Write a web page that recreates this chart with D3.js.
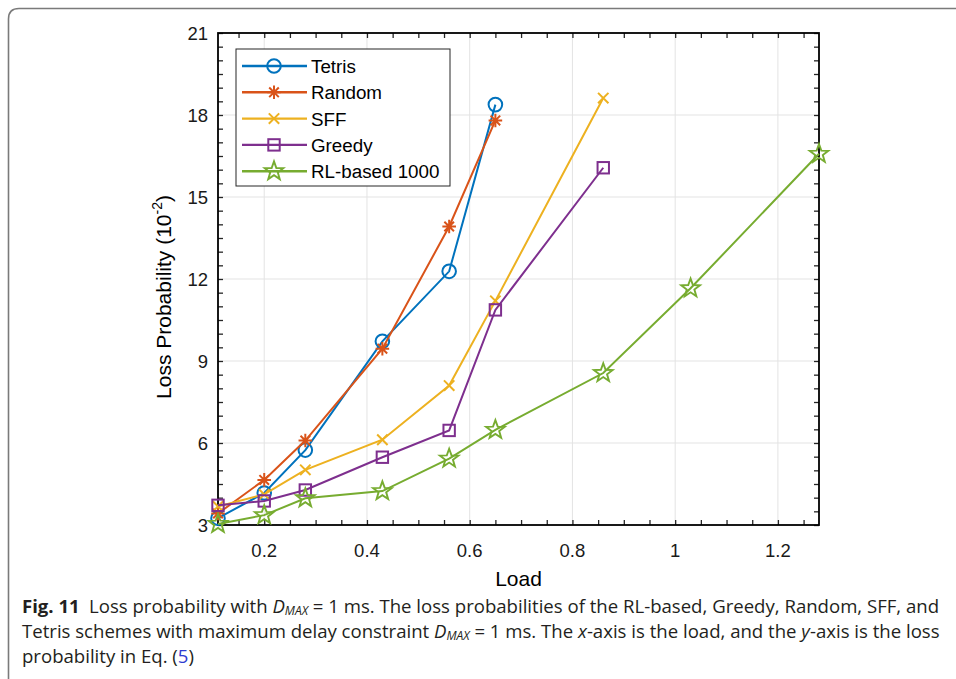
<!DOCTYPE html>
<html>
<head>
<meta charset="utf-8">
<script src="https://cdn.jsdelivr.net/npm/d3@7"></script>
<style>
	body { margin: 0; background: #fff; }
	svg { display: block; }
	.tick-label { font-family: "Liberation Sans", Arial, sans-serif; font-size: 18.5px; fill: #1a1a1a; }
	.axis-title { font-family: "Liberation Sans", Arial, sans-serif; font-size: 21px; fill: #000; }
	.legend-label { font-family: "Liberation Sans", Arial, sans-serif; font-size: 18.8px; fill: #000; }
	.caption { font-family: "Open Sans", "Noto Sans", sans-serif; font-size: 18.5px; fill: #231f20; }
</style>
</head>
<body>
<script>
// values
var load = [0.11, 0.2, 0.28, 0.43, 0.56, 0.65, 0.86, 1.03, 1.28];
var tetris = [3.25, 4.17, 5.74, 9.72, 12.28, 18.38];
var random = [3.42, 4.65, 6.09, 9.45, 13.92, 17.8];
var sff = [3.68, 4.12, 5.02, 6.12, 8.1, 11.2, 18.62];
var greedy = [3.72, 3.88, 4.28, 5.48, 6.46, 10.87, 16.07];
var rlBased = [3.04, 3.36, 3.98, 4.24, 5.43, 6.48, 8.56, 11.66, 16.58];
var seriesNames = ['Tetris', 'Random', 'SFF', 'Greedy', 'RL-based 1000'];
var xTicks = [0.2, 0.4, 0.6, 0.8, 1, 1.2];
var yTicks = [3, 6, 9, 12, 15, 18, 21];

var width = 956, height = 679;
var pLeft = 218, pRight = 819, pTop = 33, pBottom = 525;

var series = [
	{ name: seriesNames[0], values: tetris, color: '#0072BD', marker: 'circle' },
	{ name: seriesNames[1], values: random, color: '#D95319', marker: 'asterisk' },
	{ name: seriesNames[2], values: sff, color: '#EDB120', marker: 'cross' },
	{ name: seriesNames[3], values: greedy, color: '#7E2F8E', marker: 'square' },
	{ name: seriesNames[4], values: rlBased, color: '#77AC30', marker: 'star' }
];

var x = d3.scaleLinear().domain([0.11, 1.28]).range([pLeft, pRight]);
var y = d3.scaleLinear().domain([3, 21]).range([pBottom, pTop]);

var svg = d3.select('body')
	.append('svg')
	.attr('width', width)
	.attr('height', height);

// figure frame (rounded top-left / bottom-left)
svg.append('path')
	.attr('d', 'M956,8.5 L19,8.5 Q8.5,8.5 8.5,19 L8.5,679')
	.attr('fill', 'none')
	.attr('stroke', '#7a7a7a')
	.attr('stroke-width', 1.6);

// grid
svg.append('g')
	.selectAll('line')
	.data(xTicks)
	.enter()
	.append('line')
	.attr('x1', function(d) { return x(d); })
	.attr('x2', function(d) { return x(d); })
	.attr('y1', pTop)
	.attr('y2', pBottom)
	.attr('stroke', '#e3e3e3')
	.attr('stroke-width', 1);

svg.append('g')
	.selectAll('line')
	.data(yTicks.slice(1, -1))
	.enter()
	.append('line')
	.attr('x1', pLeft)
	.attr('x2', pRight)
	.attr('y1', function(d) { return y(d); })
	.attr('y2', function(d) { return y(d); })
	.attr('stroke', '#e3e3e3')
	.attr('stroke-width', 1);

// axes: ticks inside on all four sides (box on)
var tickLen = 5;
var xMinor = d3.range(0.15, 1.2801, 0.05);
var yMinor = d3.range(3, 21.001, 0.5);

var axisBottom = d3.axisBottom(x).tickValues(xMinor).tickSize(-tickLen).tickFormat('');
var axisTop = d3.axisTop(x).tickValues(xMinor).tickSize(-tickLen).tickFormat('');
var axisLeft = d3.axisLeft(y).tickValues(yMinor).tickSize(-tickLen).tickFormat('');
var axisRight = d3.axisRight(y).tickValues(yMinor).tickSize(-tickLen).tickFormat('');

[
	[axisBottom, 'translate(0,' + pBottom + ')'],
	[axisTop, 'translate(0,' + pTop + ')'],
	[axisLeft, 'translate(' + pLeft + ',0)'],
	[axisRight, 'translate(' + pRight + ',0)']
].forEach(function(a) {
	var g = svg.append('g').attr('transform', a[1]).call(a[0]);
	g.select('.domain').remove();
	g.selectAll('line').attr('stroke', '#262626').attr('stroke-width', 1.3);
});

svg.append('rect')
	.attr('x', pLeft)
	.attr('y', pTop)
	.attr('width', pRight - pLeft)
	.attr('height', pBottom - pTop)
	.attr('fill', 'none')
	.attr('stroke', '#000')
	.attr('stroke-width', 1.8);

// tick labels
svg.append('g')
	.selectAll('text')
	.data(xTicks)
	.enter()
	.append('text')
	.attr('class', 'tick-label')
	.attr('text-anchor', 'middle')
	.attr('x', function(d) { return x(d); })
	.attr('y', pBottom + 32)
	.text(function(d) { return d3.format('~g')(d); });

svg.append('g')
	.selectAll('text')
	.data(yTicks)
	.enter()
	.append('text')
	.attr('class', 'tick-label')
	.attr('text-anchor', 'end')
	.attr('x', pLeft - 10)
	.attr('y', function(d) { return y(d) + 6.8; })
	.text(function(d) { return d; });

// axis titles
svg.append('text')
	.attr('class', 'axis-title')
	.attr('text-anchor', 'middle')
	.attr('x', (pLeft + pRight) / 2)
	.attr('y', 586)
	.text('Load');

var yTitle = svg.append('text')
	.attr('class', 'axis-title')
	.attr('text-anchor', 'middle')
	.attr('transform', 'translate(171,' + ((pTop + pBottom) / 2 + 18) + ') rotate(-90)');
yTitle.append('tspan').text('Loss Probability (10');
yTitle.append('tspan').attr('font-size', '14px').attr('dy', -9).text('-2');
yTitle.append('tspan').attr('dy', 9).text(')');

// markers
function drawMarker(g, type, color) {
	if (type === 'circle') {
		g.append('circle').attr('r', 6.8).attr('fill', 'none').attr('stroke', color).attr('stroke-width', 2);
	} else if (type === 'asterisk') {
		g.append('path')
			.attr('d', 'M0,-6.8L0,6.8M-6.8,0L6.8,0M-4.8,-4.8L4.8,4.8M-4.8,4.8L4.8,-4.8')
			.attr('stroke', color).attr('stroke-width', 2);
	} else if (type === 'cross') {
		g.append('path')
			.attr('d', 'M-5.2,-5.2L5.2,5.2M-5.2,5.2L5.2,-5.2')
			.attr('stroke', color).attr('stroke-width', 2);
	} else if (type === 'square') {
		g.append('rect').attr('x', -5.7).attr('y', -5.7).attr('width', 11.4).attr('height', 11.4)
			.attr('fill', 'none').attr('stroke', color).attr('stroke-width', 2);
	} else if (type === 'star') {
		var pts = [];
		for (var k = 0; k < 10; k++) {
			var r = k % 2 === 0 ? 9.8 : 4;
			var a = -Math.PI / 2 + k * Math.PI / 5;
			pts.push([r * Math.cos(a), r * Math.sin(a)]);
		}
		g.append('path').attr('d', 'M' + pts.join('L') + 'Z')
			.attr('fill', 'none').attr('stroke', color).attr('stroke-width', 1.9);
	}
}

var line = d3.line()
	.x(function(d) { return x(d[0]); })
	.y(function(d) { return y(d[1]); });

series.forEach(function(s) {
	var pts = s.values.map(function(v, i) { return [load[i], v]; });
	svg.append('path')
		.datum(pts)
		.attr('d', line)
		.attr('fill', 'none')
		.attr('stroke', s.color)
		.attr('stroke-width', 2);
	svg.append('g')
		.selectAll('g')
		.data(pts)
		.enter()
		.append('g')
		.attr('transform', function(d) { return 'translate(' + x(d[0]) + ',' + y(d[1]) + ')'; })
		.each(function() { drawMarker(d3.select(this), s.marker, s.color); });
});

// legend
var legend = svg.append('g');
legend.append('rect')
	.attr('x', 236)
	.attr('y', 49)
	.attr('width', 214)
	.attr('height', 137)
	.attr('fill', '#fff')
	.attr('stroke', '#262626')
	.attr('stroke-width', 1);

series.forEach(function(s, i) {
	var ly = 66 + i * 26.3;
	legend.append('line')
		.attr('x1', 242).attr('x2', 307)
		.attr('y1', ly).attr('y2', ly)
		.attr('stroke', s.color)
		.attr('stroke-width', 2.4);
	drawMarker(legend.append('g').attr('transform', 'translate(274,' + ly + ')'), s.marker, s.color);
	legend.append('text')
		.attr('class', 'legend-label')
		.attr('x', 311)
		.attr('y', ly + 7)
		.text(s.name);
});

// caption
var cap = svg.append('g');
function capLine(yy) {
	return cap.append('text').attr('class', 'caption').attr('x', 0).attr('y', yy);
}
var l1 = capLine(613);
l1.append('tspan').attr('font-weight', 'bold').text('Fig. 11');
l1.append('tspan').text('\u2002Loss probability with ');
l1.append('tspan').attr('font-style', 'italic').text('D');
l1.append('tspan').attr('font-style', 'italic').attr('font-size', '12px').attr('dy', 2).text('MAX');
l1.append('tspan').attr('dy', -2).text(' = 1 ms. The loss probabilities of the RL-based, Greedy, Random, SFF, and');

var l2 = capLine(638);
l2.append('tspan').text('Tetris schemes with maximum delay constraint ');
l2.append('tspan').attr('font-style', 'italic').text('D');
l2.append('tspan').attr('font-style', 'italic').attr('font-size', '12px').attr('dy', 2).text('MAX');
l2.append('tspan').attr('dy', -2).text(' = 1 ms. The ');
l2.append('tspan').attr('font-style', 'italic').text('x');
l2.append('tspan').text('-axis is the load, and the ');
l2.append('tspan').attr('font-style', 'italic').text('y');
l2.append('tspan').text('-axis is the loss');

var l3 = capLine(663);
l3.append('tspan').text('probability in Eq. (');
l3.append('tspan').attr('fill', '#2e3bd1').text('5');
l3.append('tspan').text(')');

var w1 = l1.node().getComputedTextLength();
var sx = 918 / w1;
cap.attr('transform', 'translate(22,0) scale(' + sx + ',1)');
</script>
</body>
</html>
